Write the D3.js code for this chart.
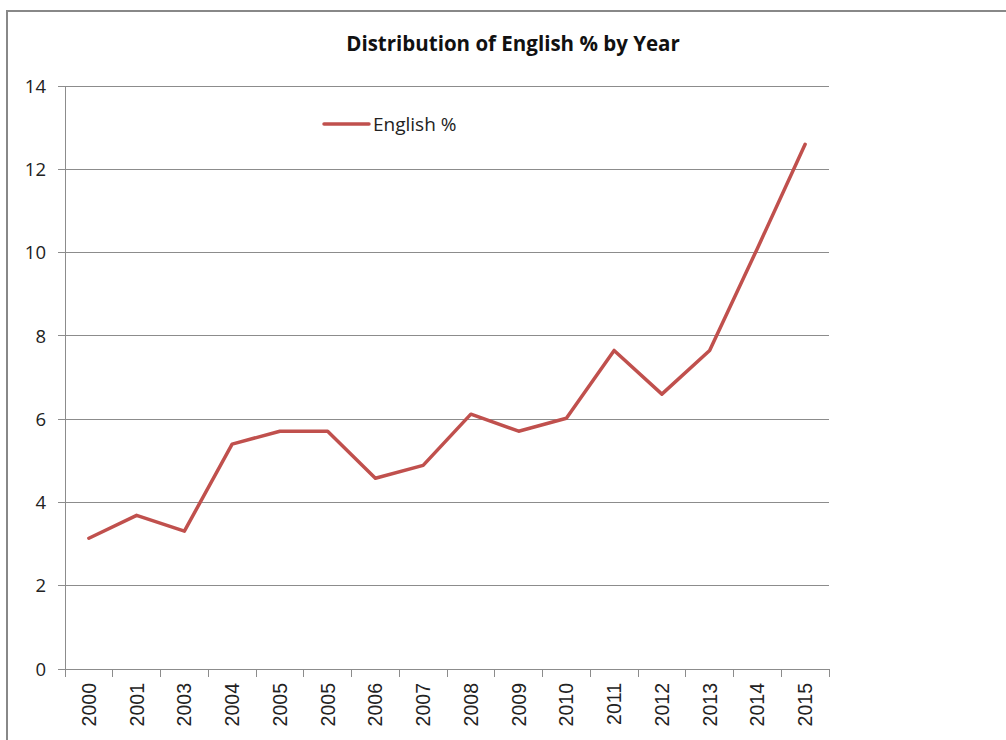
<!DOCTYPE html>
<html><head><meta charset="utf-8">
<script src="https://cdn.jsdelivr.net/npm/d3@7"></script>
<style>body{margin:0;background:#fff;overflow:hidden}</style>
</head><body>
<svg id="c" width="1006" height="740"></svg>
<script>
const years = ["2000","2001","2003","2004","2005","2005","2006","2007","2008","2009","2010","2011","2012","2013","2014","2015"];
const englishPct = [3.14,3.69,3.31,5.4,5.71,5.71,4.58,4.89,6.12,5.71,6.02,7.65,6.6,7.65,10.1,12.6];
const yTicks = [0,2,4,6,8,10,12,14];
const seriesName = "English %";
const title = "Distribution of English % by Year";

const svg = d3.select("#c");
// outer frame
svg.append("rect").attr("x",7).attr("y",11).attr("width",1100).attr("height",800)
  .attr("fill","none").attr("stroke","#888").attr("stroke-width",2);

const L=65,R=829,T=86,B=669;
const idx = years.map((d,i)=>i);
const x = d3.scaleBand().domain(idx).range([L,R]);
const y = d3.scaleLinear().domain([0,14]).range([B,T]);

// gridlines
svg.append("g").selectAll("line").data(yTicks).join("line")
  .attr("x1",L-7).attr("x2",R).attr("y1",d=>y(d)).attr("y2",d=>y(d))
  .attr("stroke","#8c8c8c").attr("stroke-width",1).attr("shape-rendering","crispEdges");
// y axis line
svg.append("line").attr("x1",L).attr("x2",L).attr("y1",T).attr("y2",B)
  .attr("stroke","#8c8c8c").attr("shape-rendering","crispEdges");
// x ticks
const bounds = idx.map(i=>x(i)).concat([R]);
svg.append("g").selectAll("line").data(bounds).join("line")
  .attr("x1",d=>d).attr("x2",d=>d).attr("y1",B).attr("y2",B+8)
  .attr("stroke","#8c8c8c").attr("shape-rendering","crispEdges");
// y labels
svg.append("g").selectAll("text").data(yTicks).join("text")
  .attr("x",46).attr("y",d=>y(d)).attr("dy","0.36em").attr("text-anchor","end")
  .attr("font-family","'Open Sans', sans-serif").attr("font-size",18.5).attr("fill","#222")
  .text(d=>d);
// x labels
svg.append("g").selectAll("text").data(idx).join("text")
  .attr("transform",i=>`translate(${x(i)+x.bandwidth()/2},683) rotate(-90)`)
  .attr("text-anchor","end").attr("dy","0.36em")
  .attr("font-family","'Liberation Sans', Arial, sans-serif").attr("font-size",19.5).attr("fill","#222")
  .text(i=>years[i]);
// line
const line = d3.line().x((d,i)=>x(i)+x.bandwidth()/2).y(d=>y(d));
svg.append("path").datum(englishPct).attr("d",line).attr("fill","none")
  .attr("stroke","#C0504D").attr("stroke-width",3.5).attr("stroke-linejoin","round").attr("stroke-linecap","round");
// title
svg.append("text").attr("x",513).attr("y",51).attr("text-anchor","middle")
  .attr("font-family","'Open Sans', sans-serif").attr("font-weight","bold").attr("font-size",20.5).attr("fill","#111")
  .text(title);
// legend
svg.append("line").attr("x1",324).attr("x2",369).attr("y1",124).attr("y2",124)
  .attr("stroke","#C0504D").attr("stroke-width",3.5).attr("stroke-linecap","round");
svg.append("text").attr("x",373).attr("y",124).attr("dy","0.36em")
  .attr("font-family","'Open Sans', sans-serif").attr("font-size",19).attr("fill","#222")
  .text(seriesName);
</script>
</body></html>
